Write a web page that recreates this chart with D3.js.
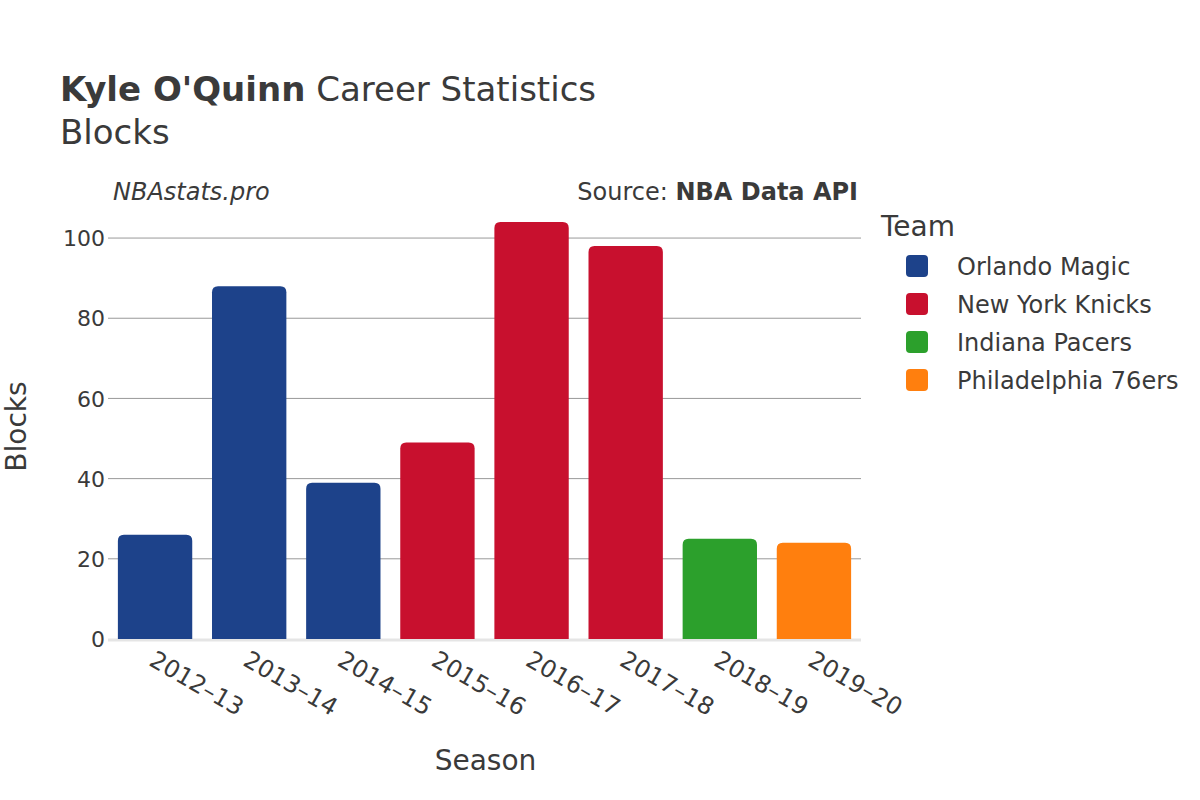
<!DOCTYPE html>
<html>
<head>
<meta charset="utf-8">
<script src="https://cdn.jsdelivr.net/npm/d3@7"></script>
<style>
  body { margin: 0; background: #fff; }
  text { font-family: "DejaVu Sans", sans-serif; fill: #3a3a3a; }
</style>
</head>
<body>
<div id="chart"></div>
<script>
// Chart data
const seasons = ['2012–13', '2013–14', '2014–15', '2015–16', '2016–17', '2017–18', '2018–19', '2019–20'];
const blocks = [26, 88, 39, 49, 104, 98, 25, 24];
const seasonTeams = ['Orlando Magic', 'Orlando Magic', 'Orlando Magic', 'New York Knicks', 'New York Knicks', 'New York Knicks', 'Indiana Pacers', 'Philadelphia 76ers'];
const teams = ['Orlando Magic', 'New York Knicks', 'Indiana Pacers', 'Philadelphia 76ers'];
const teamColors = ['#1d428a', '#c8102e', '#2ca02c', '#ff7f0e'];
const yTicks = [0, 20, 40, 60, 80, 100];

const width = 1200, height = 800;
const margin = { left: 108, right: 339, top: 214, bottom: 161 };
const chartWidth = width - margin.left - margin.right;
const chartHeight = height - margin.top - margin.bottom;

const svg = d3.select('#chart').append('svg')
    .attr('width', width)
    .attr('height', height);

// Scales
const xScale = d3.scaleBand().domain(seasons).range([0, chartWidth]).paddingInner(0.21).paddingOuter(0.105);
const yScale = d3.scaleLinear().domain([0, 106]).range([chartHeight, 0]);
const color = d3.scaleOrdinal().domain(teams).range(teamColors);

const g = svg.append('g')
    .attr('transform', 'translate(' + margin.left + ',' + margin.top + ')');

// Gridlines
g.selectAll('.grid').data(yTicks.filter(d => d > 0)).enter().append('line')
    .attr('x1', 0).attr('x2', chartWidth)
    .attr('y1', d => yScale(d)).attr('y2', d => yScale(d))
    .attr('stroke', '#999').attr('stroke-width', 1);

// Zero line
g.append('line')
    .attr('x1', 0).attr('x2', chartWidth)
    .attr('y1', yScale(0) + 1).attr('y2', yScale(0) + 1)
    .attr('stroke', '#e5e5e5').attr('stroke-width', 3);

// Bars with rounded tops
const r = 6;
function barPath(x, y, w, h) {
    return 'M' + x + ',' + (y + h) +
        'V' + (y + r) +
        'Q' + x + ',' + y + ' ' + (x + r) + ',' + y +
        'H' + (x + w - r) +
        'Q' + (x + w) + ',' + y + ' ' + (x + w) + ',' + (y + r) +
        'V' + (y + h) + 'Z';
}
g.selectAll('.bar').data(seasons).enter().append('path')
    .attr('fill', (d, i) => color(seasonTeams[i]))
    .attr('d', (d, i) => barPath(xScale(d), yScale(blocks[i]), xScale.bandwidth(), yScale(0) - yScale(blocks[i])));

// Y axis
const yAxis = d3.axisLeft(yScale).tickValues(yTicks).tickSize(0).tickPadding(3);
const yAxisG = g.append('g').call(yAxis);
yAxisG.select('.domain').remove();
yAxisG.selectAll('text').style('font-size', '22px').attr('fill', '#3a3a3a').attr('dy', '0.35em');

// X axis
const xAxis = d3.axisBottom(xScale).tickSize(0).tickPadding(0);
const xAxisG = g.append('g')
    .attr('transform', 'translate(0,' + chartHeight + ')')
    .call(xAxis);
xAxisG.select('.domain').remove();
xAxisG.selectAll('text')
    .style('font-size', '24px')
    .attr('fill', '#3a3a3a')
    .attr('text-anchor', 'start')
    .attr('transform', 'translate(1,11) rotate(30)')
    .attr('dy', '0.7em');

// Titles
const title = svg.append('text').attr('x', 60).attr('y', 101).style('font-size', '34px');
title.append('tspan').attr('font-weight', 'bold').text("Kyle O'Quinn");
title.append('tspan').text(' Career Statistics');
svg.append('text').attr('x', 60).attr('y', 144).style('font-size', '34px').text('Blocks');

// Annotations
svg.append('text').attr('x', 113).attr('y', 200)
    .style('font-size', '24px').style('font-style', 'italic').text('NBAstats.pro');
const src = svg.append('text').attr('x', 858).attr('y', 200)
    .attr('text-anchor', 'end').style('font-size', '24px');
src.append('tspan').text('Source: ');
src.append('tspan').attr('font-weight', 'bold').text('NBA Data API');

// Axis titles
svg.append('text').attr('x', margin.left + chartWidth / 2 + 1).attr('y', 770)
    .attr('text-anchor', 'middle').style('font-size', '28px').text('Season');
svg.append('text')
    .attr('transform', 'translate(26,' + (margin.top + chartHeight / 2) + ') rotate(-90)')
    .attr('text-anchor', 'middle').style('font-size', '28px').text('Blocks');

// Legend
svg.append('text').attr('x', 881).attr('y', 236).style('font-size', '28px').text('Team');
const legend = svg.selectAll('.legend').data(teams).enter().append('g')
    .attr('transform', (d, i) => 'translate(906,' + (255 + i * 38) + ')');
legend.append('rect')
    .attr('width', 22).attr('height', 22).attr('rx', 4)
    .attr('fill', d => color(d));
legend.append('text')
    .attr('x', 51).attr('y', 11).attr('dy', '0.36em')
    .style('font-size', '24px').text(d => d);
</script>
</body>
</html>
